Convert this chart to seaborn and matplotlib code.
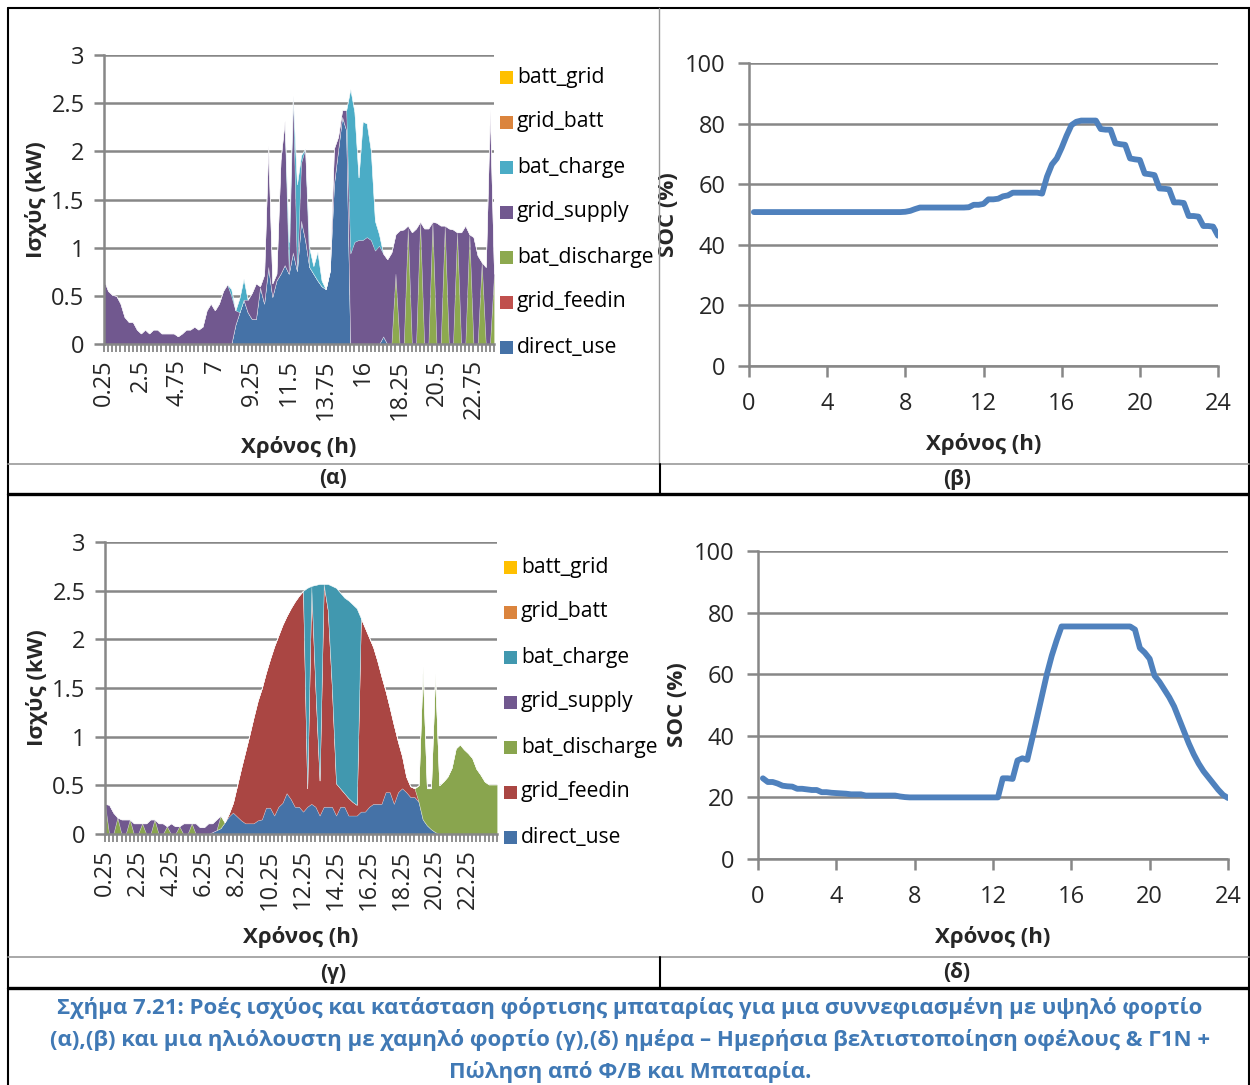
import numpy as np
import matplotlib
matplotlib.use("Agg")
import matplotlib.pyplot as plt
import seaborn as sns
from matplotlib.lines import Line2D
from matplotlib.patches import Rectangle

sns.set_theme(style="white")
plt.rcParams['font.family'] = ['Open Sans', 'DejaVu Sans']

# ---------------- data ----------------
hours = np.arange(1, 97) * 0.25          # 96 quarter-hour categories
series_names = ["direct_use", "grid_feedin", "bat_discharge", "grid_supply",
                "bat_charge", "grid_batt", "batt_grid"]

# (α) cloudy day, high load
direct_use_a = [0]*32 + [0.20, 0.33, 0.46, 0.33, 0.26, 0.26, 0.59, 0.42, 0.80, 0.49,
                         0.66, 0.73, 0.82, 0.73, 0.95, 0.76, 1.28, 1.08, 0.80, 0.73,
                         0.66, 0.60, 0.57, 0.76, 1.66, 2.01, 2.36, 2.22,
                         0, 0, 0, 0, 0, 0, 0, 0, 0.08] + [0]*27
grid_feedin_a = [0]*96
bat_discharge_a = [0]*71 + [0.73, 0, 0, 1.20, 0, 0, 1.27, 0, 0, 1.27, 0, 0, 1.23, 0, 0,
                            1.16, 0, 0, 1.14, 0, 0, 0.85, 0, 0, 0.73]
grid_supply_a = [0.66, 0.55, 0.51, 0.50, 0.42, 0.28, 0.23, 0.23, 0.15, 0.11,
                 0.15, 0.11, 0.15, 0.15, 0.11, 0.11, 0.11, 0.11, 0.08, 0.11,
                 0.15, 0.15, 0.18, 0.15, 0.18, 0.35, 0.42, 0.35, 0.42, 0.55,
                 0.62, 0.50, 0.15, 0.00, 0.00, 0.13, 0.27, 0.37, 0.01, 0.30,
                 1.26, 0.14, 0.07, 1.18, 1.50, 0.03, 1.63, 0.00, 0.60, 0.95,
                 0.00, 0.00, 0.00, 0.00, 0.00, 0.00, 0.37, 0.14, 0.07, 0.21,
                 0.94, 1.06, 1.08, 1.08, 1.11, 1.08, 0.97, 1.02, 0.86, 0.88,
                 0.95, 0.41, 1.18, 1.19, 0.03, 1.16, 1.20, 0.00, 1.20, 1.20,
                 0.00, 1.26, 1.23, 0.00, 1.20, 1.19, 0.00, 1.16, 1.23, 0.00,
                 1.11, 0.92, 0.00, 0.80, 2.43, 0.00]
bat_charge_a = [0]*31 + [0.07, 0, 0.15, 0.22, 0, 0, 0, 0, 0, 0,
                         0, 0, 0, 0, 0.30, 0, 0.90, 0.08, 0, 0.20,
                         0.08, 0.30, 0.06, 0, 0, 0, 0, 0, 0, 1.71,
                         1.35, 0.65, 1.23, 1.18, 0.93, 0.31, 0.12] + [0]*28
grid_batt_a = [0]*96
batt_grid_a = [0]*96

# (γ) sunny day, low load
direct_use_g = [0]*26 + [0.02, 0.04, 0.06, 0.12, 0.18, 0.22, 0.18, 0.14, 0.11, 0.11,
                         0.11, 0.14, 0.15, 0.27, 0.27, 0.19, 0.28, 0.32, 0.42, 0.36,
                         0.28, 0.28, 0.23, 0.28, 0.31, 0.28, 0.19, 0.28, 0.28, 0.28,
                         0.19, 0.28, 0.28, 0.19, 0.19, 0.19, 0.23, 0.23, 0.28, 0.31,
                         0.31, 0.31, 0.43, 0.43, 0.31, 0.43, 0.47, 0.43, 0.38, 0.38,
                         0.33, 0.15, 0.09, 0.05, 0.02] + [0]*15
grid_feedin_g = [0]*30 + [0.03, 0.10, 0.32, 0.54, 0.74, 0.91, 1.09, 1.23, 1.35, 1.39,
                          1.53, 1.74, 1.76, 1.83, 1.82, 1.96, 2.11, 2.17, 2.27, 0.19,
                          2.24, 1.22, 0.36, 2.29, 2.02, 1.22, 0.33, 0.19, 0.14, 0.18,
                          0.14, 0.11, 1.99, 1.89, 1.74, 1.61, 1.47, 1.31, 1.04, 0.87,
                          0.81, 0.52, 0.33, 0.16, 0.11, 0.09] + [0]*20
bat_discharge_g = [0.31, 0, 0, 0.17, 0, 0, 0.15, 0, 0, 0.11,
                   0, 0, 0.15, 0, 0, 0.08, 0, 0, 0.08, 0,
                   0, 0.11, 0, 0, 0, 0, 0, 0, 0.13] + [0]*47 + \
                  [0.17, 1.57, 0.38, 0.42, 1.63, 0.50, 0.54, 0.59, 0.68, 0.88,
                   0.92, 0.87, 0.83, 0.78, 0.67, 0.61, 0.54, 0.51, 0.51, 0.51]
grid_supply_g = [0, 0.30, 0.22, 0, 0.15, 0.15, 0, 0.11, 0.11, 0,
                 0.11, 0.15, 0, 0.11, 0.11, 0, 0.11, 0.08, 0, 0.11,
                 0.11, 0, 0.11, 0.07, 0.07, 0.11, 0.09, 0.11] + [0]*68
bat_charge_g = [0]*49 + [2.06, 0, 1.06, 2.02, 0, 0.27, 1.05, 2.01, 2.01, 2.01,
                         2.03, 2.03, 2.02] + [0]*34
grid_batt_g = [0]*96
batt_grid_g = [0]*96

# (β), (δ) state of charge (%)
soc_b = [50.8]*31 + [50.9, 51.2, 51.8, 52.3, 52.3, 52.3, 52.3, 52.3, 52.3, 52.3,
                     52.3, 52.3, 52.3, 52.4, 53.2, 53.2, 53.5, 55.0, 55.0, 55.2,
                     56.0, 56.3, 57.2, 57.2, 57.2, 57.2, 57.2, 57.2, 56.9, 62.5,
                     66.5, 68.5, 72.0, 76.0, 79.5, 80.6, 81.0, 81.0, 81.0, 81.0,
                     78.2, 78.0, 78.0, 73.5, 73.2, 73.0, 68.5, 68.2, 68.0, 63.5,
                     63.3, 63.0, 58.6, 58.5, 58.3, 54.0, 54.0, 53.8, 49.5, 49.5,
                     49.3, 46.2, 46.2, 46.0, 43.0]
soc_d = [26.2, 25.0, 25.0, 24.5, 23.8, 23.6, 23.5, 22.8, 22.8, 22.6,
         22.4, 22.4, 21.7, 21.7, 21.5, 21.4, 21.3, 21.2, 21.0, 21.0,
         21.0, 20.6, 20.6, 20.6, 20.6, 20.6, 20.6, 20.6, 20.3, 20.1] + [20.0]*19 + \
        [26.2, 26.2, 26.0, 32.0, 32.7, 32.2, 39.0, 46.0, 53.0, 60.0,
         66.0, 71.0, 75.5] + [75.5]*14 + \
        [74.5, 68.5, 67.0, 65.0, 59.5, 57.5, 55.0, 52.5, 49.5, 45.5,
         41.5, 37.5, 34.0, 31.0, 28.5, 26.5, 24.5, 22.5, 20.8, 19.8]

ticklabels_a = ["0.25", "2.5", "4.75", "7", "9.25", "11.5", "13.75", "16", "18.25", "20.5", "22.75"]
ticklabels_g = ["0.25", "2.25", "4.25", "6.25", "8.25", "10.25", "12.25", "14.25", "16.25",
                "18.25", "20.25", "22.25"]
ylabels_area = ["0", "0.5", "1", "1.5", "2", "2.5", "3"]
legend_order = ["batt_grid", "grid_batt", "bat_charge", "grid_supply",
                "bat_discharge", "grid_feedin", "direct_use"]

# ---------------- styles ----------------
colors_a = {"direct_use": "#4572A7", "grid_feedin": "#C0504D", "bat_discharge": "#8DA94F",
            "grid_supply": "#71588F", "bat_charge": "#4BACC6", "grid_batt": "#DB843D",
            "batt_grid": "#FFC000"}
colors_g = {"direct_use": "#4572A7", "grid_feedin": "#AA4643", "bat_discharge": "#89A54E",
            "grid_supply": "#71588F", "bat_charge": "#4198AF", "grid_batt": "#DB843D",
            "batt_grid": "#FFC000"}
GRID = "#878787"
TICK_FS = 17
TITLE_FS = 16
W, H = 1250, 1085
fig = plt.figure(figsize=(W / 100, H / 100), dpi=100)
fig.patch.set_facecolor("white")


def rect(l, t, r, b):
    return [l / W, 1 - b / H, (r - l) / W, (b - t) / H]


def area_panel(box, data, cols, tick_step, tick_labels):
    ax = fig.add_axes(rect(*box))
    idx = np.arange(96)
    ys = [np.array(data[n], dtype=float) for n in series_names]
    ax.stackplot(idx, ys, colors=[cols[n] for n in series_names],
                 linewidth=0.4, edgecolor=(1, 1, 1, 0.35), zorder=2)
    ax.set_xlim(0, 95)
    ax.set_ylim(0, 3)
    ax.set_yticks(np.arange(0, 3.01, 0.5))
    ax.set_yticklabels(ylabels_area, fontsize=TICK_FS)
    ax.set_xticks(idx)
    labs = [""] * 96
    for k, lab in zip(range(0, 96, tick_step), tick_labels):
        labs[k] = lab
    ax.set_xticklabels(labs, rotation=90, fontsize=TICK_FS)
    ax.grid(axis="y", color=GRID, lw=1.8, zorder=0)
    ax.set_axisbelow(True)
    for s in ["top", "right"]:
        ax.spines[s].set_visible(False)
    for s in ["left", "bottom"]:
        ax.spines[s].set_color(GRID)
        ax.spines[s].set_linewidth(1.8)
    ax.tick_params(axis="y", direction="out", length=7, width=1.8, color=GRID, pad=7, left=True)
    ax.tick_params(axis="x", direction="out", length=6, width=1.3, color=GRID, pad=5, bottom=True)
    ax.set_xlabel("Χρόνος (h)", fontsize=TITLE_FS, fontweight="bold", labelpad=12)
    ax.set_ylabel("Ισχύς (kW)", fontsize=TITLE_FS, fontweight="bold", labelpad=3)
    return ax


def soc_panel(box, soc):
    ax = fig.add_axes(rect(*box))
    sns.lineplot(x=hours, y=soc, ax=ax, color="#4F81BD", lw=4.2, zorder=3)
    ax.set_xlim(0, 24)
    ax.set_ylim(0, 100)
    ax.set_xticks(range(0, 25, 4))
    ax.set_yticks(range(0, 101, 20))
    ax.tick_params(labelsize=TICK_FS)
    ax.grid(axis="y", color=GRID, lw=1.8, zorder=0)
    ax.set_axisbelow(True)
    for s in ["top", "right"]:
        ax.spines[s].set_visible(False)
    for s in ["left", "bottom"]:
        ax.spines[s].set_color(GRID)
        ax.spines[s].set_linewidth(1.8)
    ax.tick_params(axis="both", direction="out", length=8, width=1.8, color=GRID,
                   left=True, bottom=True)
    ax.tick_params(axis="y", pad=9)
    ax.tick_params(axis="x", pad=11)
    ax.set_xlabel("Χρόνος (h)", fontsize=TITLE_FS, fontweight="bold", labelpad=12)
    ax.set_ylabel("SOC (%)", fontsize=TITLE_FS, fontweight="bold", labelpad=4)
    return ax


data_a = dict(direct_use=direct_use_a, grid_feedin=grid_feedin_a, bat_discharge=bat_discharge_a,
              grid_supply=grid_supply_a, bat_charge=bat_charge_a, grid_batt=grid_batt_a,
              batt_grid=batt_grid_a)
data_g = dict(direct_use=direct_use_g, grid_feedin=grid_feedin_g, bat_discharge=bat_discharge_g,
              grid_supply=grid_supply_g, bat_charge=bat_charge_g, grid_batt=grid_batt_g,
              batt_grid=batt_grid_g)

area_panel((104, 55, 494, 344), data_a, colors_a, 9, ticklabels_a)
soc_panel((749, 63, 1218, 366), soc_b)
area_panel((105, 542, 497, 834), data_g, colors_g, 8, ticklabels_g)
soc_panel((758, 551, 1228, 859), soc_d)

# ---------------- overlay: table lines, legends, captions ----------------
ov = fig.add_axes([0, 0, 1, 1])
ov.set_xlim(0, W)
ov.set_ylim(H, 0)
ov.axis("off")
ov.patch.set_alpha(0)
ov.set_zorder(10)


def hline(y, x0, x1, c="black", lw=1.5):
    ov.add_line(Line2D([x0, x1], [y, y], color=c, lw=lw))


def vline(x, y0, y1, c="black", lw=1.5):
    ov.add_line(Line2D([x, x], [y0, y1], color=c, lw=lw))


hline(8, 8, 1250)
vline(8, 8, 1085)
vline(1249, 8, 1085)
vline(659, 8, 464, c="#9a9a9a", lw=1.0)
hline(464, 8, 1249, c="#9a9a9a", lw=1.2)
vline(660, 464, 493)
hline(493.5, 8, 1250, lw=2.4)
hline(957, 8, 1249, c="#9a9a9a", lw=1.2)
vline(660, 957, 988)
hline(988, 8, 1250, lw=2.4)

for lx, ly, cols in [(500, 77, colors_a), (504, 567, colors_g)]:
    for k, name in enumerate(legend_order):
        yy = ly + 45 * k
        ov.add_patch(Rectangle((lx, yy - 6.5), 13, 13, color=cols[name], lw=0))
        ov.text(lx + 17, yy, name, fontsize=15.2, va="center", ha="left", color="black")

for x, y, s in [(333, 479, "(α)"), (957, 479, "(β)"), (333, 973, "(γ)"), (957, 973, "(δ)")]:
    ov.text(x, y, s, fontsize=15, fontweight="bold", ha="center", va="center")

caption = ["Σχήμα 7.21: Ροές ισχύος και κατάσταση φόρτισης μπαταρίας για μια συννεφιασμένη με υψηλό φορτίο",
           "(α),(β) και μια ηλιόλουστη με χαμηλό φορτίο (γ),(δ) ημέρα – Ημερήσια βελτιστοποίηση οφέλους & Γ1Ν +",
           "Πώληση από Φ/Β και Μπαταρία."]
for k, line in enumerate(caption):
    ov.text(630, 1008 + 32 * k, line, fontsize=16, fontweight="bold", ha="center",
            va="center", color="#4079B5")

fig.savefig("out.png", dpi=100, facecolor="white")
